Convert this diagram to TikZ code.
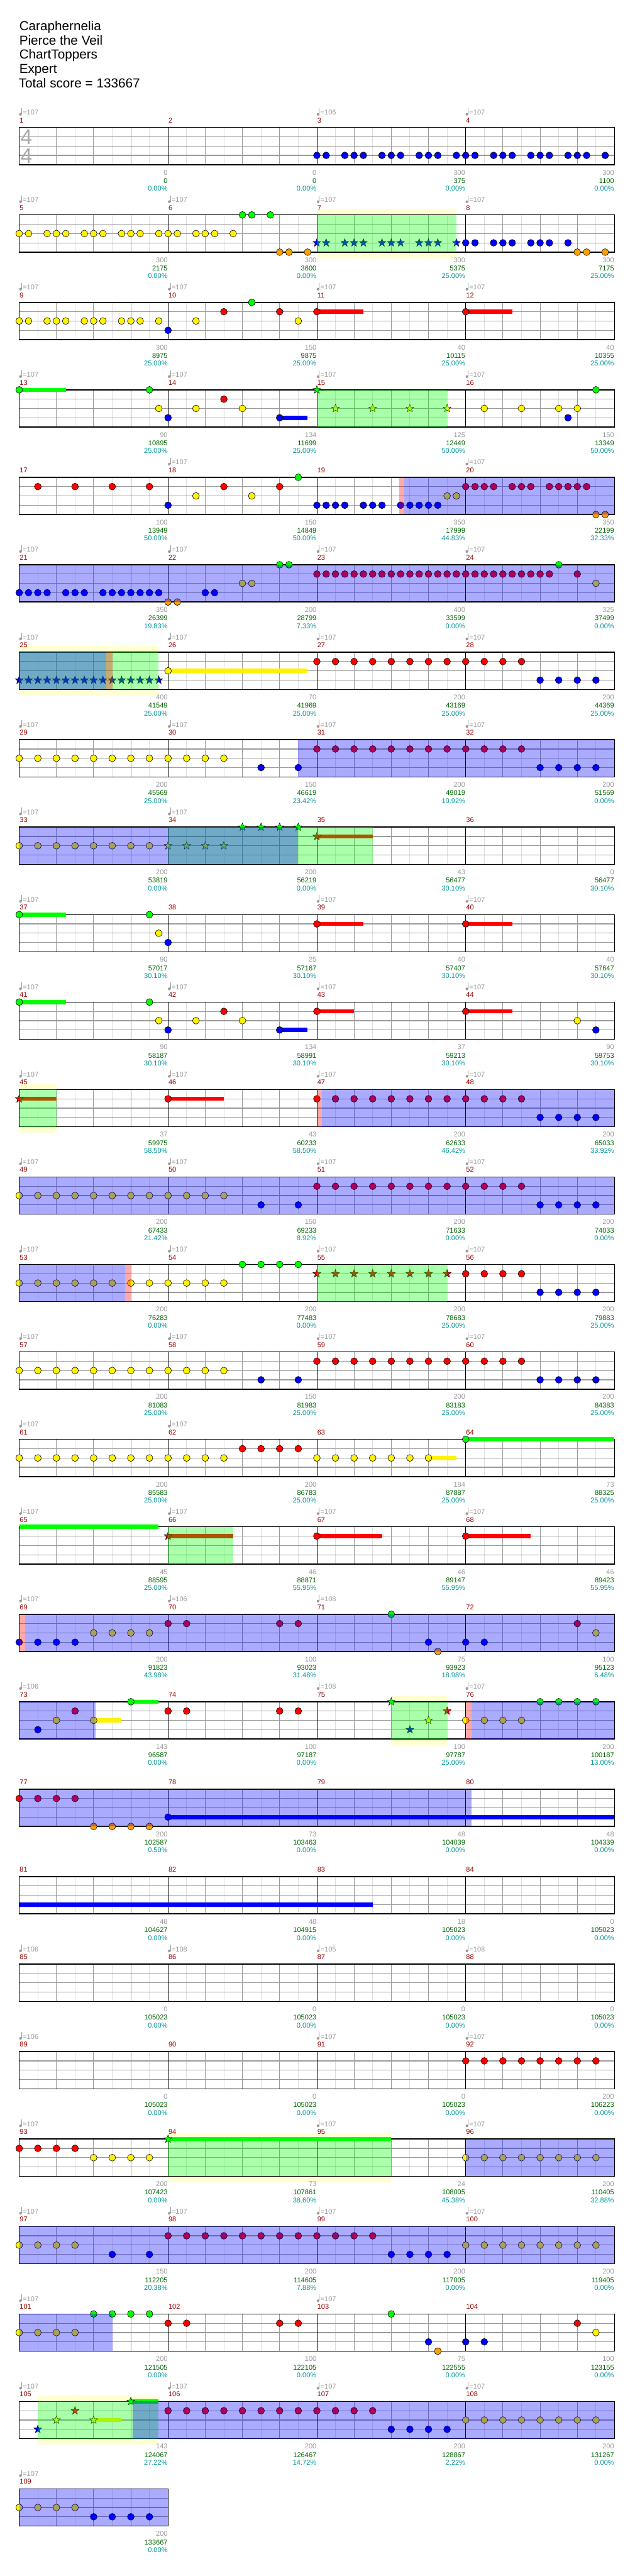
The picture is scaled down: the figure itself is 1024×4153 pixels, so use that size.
\documentclass[tikz,border=0pt]{standalone}
\usepackage{fontspec}
\setmainfont{Liberation Sans}
\usetikzlibrary{shapes.geometric}

\definecolor{tempogray}{RGB}{155,155,155}
\definecolor{barred}{RGB}{153,0,0}
\definecolor{totalgreen}{RGB}{0,100,0}
\definecolor{pctteal}{RGB}{0,150,150}
\definecolor{halfgray}{RGB}{222,222,222}
\definecolor{lanegray}{RGB}{155,155,155}
\definecolor{siggray}{RGB}{170,170,170}
\definecolor{bandyellow}{RGB}{255,255,210}
\definecolor{fretorange}{RGB}{255,160,0}

% origin of a measure: left edge, top lane
\newcommand\mxo[1]{(31+240*mod(#1-1,4))}
\newcommand\myo[1]{(205.5+141*floor((#1-1)/4))}

% gems: style, lane (0 green .. 4 orange), measure/{sixteenths}
\newcommand\gems[3]{%
  \foreach \m/\ks in {#3}{%
    \pgfmathsetmacro\gx{\mxo{\m}}%
    \pgfmathsetmacro\gy{\myo{\m}+15*#2}%
    \foreach \six in \ks {\node[#1] at (\gx+15*\six,\gy) {};}%
  }}

% sustain: colour, lane, measure, from, to (sixteenths)
\newcommand\sus[5]{%
  \pgfmathsetmacro\gx{\mxo{#3}}%
  \pgfmathsetmacro\gy{\myo{#3}+15*#2}%
  \fill[#1] (\gx+15*#4,\gy-3.3) rectangle (\gx+15*#5,\gy+3.3);}

% shading over the staff of a row, and the pale band round it
\newcommand\zone[4]{\fill[#1] (#3,205.5+141*#2) rectangle (#4,265.5+141*#2);}
\newcommand\band[3]{\fill[bandyellow] (#2,195.5+141*#1) rectangle (#3,275.5+141*#1);}

% staff of one row: row, number of measures
\newcommand\staff[2]{%
  \pgfmathsetmacro\sy{205.5+141*#1}%
  \pgfmathsetmacro\sx{31+240*#2}%
  \fill[white] (31,\sy) rectangle (\sx,\sy+60);
  \foreach \cc in {1,...,#2}{%
    \pgfmathsetmacro\cx{31+240*(\cc-1)}%
    \foreach \dd in {30,90,150,210} \draw[halfline] (\cx+\dd,\sy) -- (\cx+\dd,\sy+60);
    \foreach \dd in {60,120,180} \draw[beatline] (\cx+\dd,\sy) -- (\cx+\dd,\sy+60);
  }
  \foreach \yy in {15,30,45} \draw[laneline] (31,\sy+\yy) -- (\sx,\sy+\yy);
  \foreach \cc in {1,...,#2}{\draw[barline] (31+240*\cc-240,\sy) -- (31+240*\cc-240,\sy+60);}
  \draw[staffframe] (31,\sy) rectangle (\sx,\sy+60);}

% tempo mark above a measure
\newcommand\tempo[2]{%
  \pgfmathsetmacro\gx{\mxo{#1}}%
  \pgfmathsetmacro\gy{\myo{#1}}%
  \fill[tempogray] (\gx+2,\gy-21.3) circle[radius=2.2];
  \draw[tempogray,line width=0.9pt] (\gx+4,\gy-21.3) -- (\gx+4,\gy-31.3);
  \node[tempo] at (\gx+5.6,\gy-20.3) {=#2};}

\begin{document}
\begin{tikzpicture}[x=1pt,y=-1pt,
  gem/.style={circle,draw=black,line width=0.6pt,inner sep=0pt,minimum size=11pt,fill=#1},
  spgem/.style={star,star points=5,star point ratio=2.4,draw=black,line width=0.5pt,inner sep=0pt,minimum size=13.5pt,fill=#1},
  halfline/.style={draw=halfgray,line width=1pt},
  beatline/.style={draw=lanegray,line width=1pt},
  laneline/.style={draw=lanegray,line width=1.2pt},
  barline/.style={draw=black,line width=1pt},
  staffframe/.style={draw=black,line width=1.5pt},
  spzone/.style={fill=green,fill opacity=0.333},
  odzone/.style={fill=blue,fill opacity=0.333},
  hitzone/.style={fill=red,fill opacity=0.333},
  smalltext/.style={inner sep=0pt,font=\fontsize{11.2}{11.2}\selectfont},
  tempo/.style={smalltext,anchor=base west,text=tempogray},
  barno/.style={smalltext,anchor=base west,text=barred},
  gain/.style={smalltext,anchor=base east,text=tempogray},
  total/.style={smalltext,anchor=base east,text=totalgreen},
  pct/.style={smalltext,anchor=base east,text=pctteal},
  title/.style={anchor=base west,inner sep=0pt,font=\fontsize{21}{21}\selectfont},
  timesig/.style={anchor=base west,inner sep=0pt,text=siggray,font=\fontsize{34}{34}\selectfont}
]
\fill[white] (0,0) rectangle (1024,4153);
\useasboundingbox (0,0) rectangle (1024,4153);

% header
\node[title] (song) at (31,49.3) {Caraphernelia};
\node[title] (artist) at (31,72.3) {Pierce the Veil};
\node[title] (pack) at (31,95.3) {ChartToppers};
\node[title] (level) at (31,118.3) {Expert};
\node[title] (score) at (30,141.3) {Total score = 133667};

% pale bands
\band{1}{511}{736}
\band{6}{31}{256}
\band{11}{31}{91}
\band{18}{631}{721}
\band{23}{271}{631}
\band{26}{61}{256}

% staves
\foreach \rr in {0,...,26}{\staff{\rr}{4}}
\staff{27}{1}
\node[timesig] (sigtop) at (33,233) {4};
\node[timesig] (sigbot) at (33,263) {4};

% sustains
\sus{red}{1}{11}{0}{5}
\sus{red}{1}{12}{0}{5}
\sus{green}{0}{13}{0}{5}
\sus{blue}{3}{14}{12}{15}
\sus{yellow}{2}{26}{0}{15}
\sus{red}{1}{35}{0}{6}
\sus{green}{0}{37}{0}{5}
\sus{red}{1}{39}{0}{5}
\sus{red}{1}{40}{0}{5}
\sus{green}{0}{41}{0}{5}
\sus{blue}{3}{42}{12}{15}
\sus{red}{1}{43}{0}{4}
\sus{red}{1}{44}{0}{5}
\sus{red}{1}{45}{0}{4}
\sus{red}{1}{46}{0}{6}
\sus{yellow}{2}{63}{12}{15}
\sus{green}{0}{64}{0}{16}
\sus{green}{0}{65}{0}{15}
\sus{red}{1}{66}{0}{7}
\sus{red}{1}{67}{0}{7}
\sus{red}{1}{68}{0}{7}
\sus{yellow}{2}{73}{8}{11}
\sus{green}{0}{73}{12}{15}
\sus{blue}{3}{78}{0}{48}
\sus{blue}{3}{81}{0}{38}
\sus{green}{0}{94}{0}{24}
\sus{yellow}{2}{105}{8}{11}
\sus{green}{0}{105}{12}{15}

% green
\gems{gem=green}{0}{6/{8,9,11}, 10/9, 13/{0,14}, 16/14, 18/14, 22/{12,13}, 24/10,
  37/{0,14}, 41/{0,14}, 54/{8,10,12,14}, 64/0, 71/8, 73/12, 76/{8,10,12,14},
  101/{8,10,12,14}, 103/8}
% red
\gems{gem=red}{1}{10/{6,12}, 11/0, 12/0, 14/6, 17/{2,6,10,14}, 18/{6,12},
  20/{0,1,2,3,5,6,7,9,10,11,12,13}, 23/{0,...,15}, 24/{0,...,9,12},
  27/{0,2,4,6,8,10,12,14}, 28/{0,2,4,6}, 31/{0,2,4,6,8,10,12,14}, 32/{0,2,4,6},
  39/0, 40/0, 42/6, 43/0, 44/0, 46/0, 47/{0,2,4,6,8,10,12,14}, 48/{0,2,4,6},
  51/{0,2,4,6,8,10,12,14}, 52/{0,2,4,6}, 56/{0,2,4,6}, 59/{0,2,4,6,8,10,12,14},
  60/{0,2,4,6}, 62/{8,10,12,14}, 67/0, 68/0, 70/{0,2,12,14}, 72/12, 73/6,
  74/{0,2,12,14}, 77/{0,2,4,6}, 92/{0,2,4,6,8,10,12,14}, 93/{0,2,4,6},
  98/{0,2,4,6,8,10,12,14}, 99/{0,2,4,6}, 102/{0,2,12,14}, 104/12,
  106/{0,2,4,6,8,10,12,14}, 107/{0,2,4,6}}
% yellow
\gems{gem=yellow}{2}{5/{0,1,3,4,5,7,8,9,11,12,13,15}, 6/{0,1,3,4,5,7},
  9/{0,1,3,4,5,7,8,9,11,12,13,15}, 10/{3,14}, 13/15, 14/{3,8}, 16/{2,6,10,12},
  18/{3,9}, 19/{14,15}, 22/{8,9}, 24/14, 26/0, 29/{0,2,4,6,8,10,12,14},
  30/{0,2,4,6}, 33/{0,2,4,6,8,10,12,14}, 37/15, 41/15, 42/{3,8}, 44/12,
  49/{0,2,4,6,8,10,12,14}, 50/{0,2,4,6}, 53/{0,2,4,6,8,10,12,14}, 54/{0,2,4,6},
  57/{0,2,4,6,8,10,12,14}, 58/{0,2,4,6}, 61/{0,2,4,6,8,10,12,14}, 62/{0,2,4,6},
  63/{0,2,4,6,8,10,12}, 69/{8,10,12,14}, 72/14, 73/{4,8}, 76/{0,2,4,6},
  93/{8,10,12,14}, 96/{0,2,4,6,8,10,12,14}, 97/{0,2,4,6},
  100/{0,2,4,6,8,10,12,14}, 101/{0,2,4,6}, 104/14, 108/{0,2,4,6,8,10,12,14},
  109/{0,2,4,6}}
% blue
\gems{gem=blue}{3}{3/{0,1,3,4,5,7,8,9,11,12,13,15}, 4/{0,1,3,4,5,7,8,9,11,12,13,15},
  8/{0,1,3,4,5,7,8,9,11}, 10/0, 14/{0,12}, 16/11, 18/0,
  19/{0,1,2,3,5,6,7,9,10,11,12,13}, 21/{0,1,2,3,5,6,7,9,10,11,12,13,14,15},
  22/{4,5}, 28/{8,10,12,14}, 30/{10,14}, 32/{8,10,12,14}, 38/0, 42/{0,12}, 44/14,
  48/{8,10,12,14}, 50/{10,14}, 52/{8,10,12,14}, 56/{8,10,12,14}, 58/{10,14},
  60/{8,10,12,14}, 69/{0,2,4,6}, 71/12, 72/{0,2}, 73/2, 78/0, 97/{10,14},
  99/{8,10,12,14}, 103/12, 104/{0,2}, 107/{8,10,12,14}, 109/{8,10,12,14}}
% orange
\gems{gem=fretorange}{4}{6/{12,13,15}, 8/{12,13,15}, 20/{14,15}, 22/{0,1}, 71/13,
  77/{8,10,12,14}, 103/13}

% star gems
\gems{spgem=blue}{3}{7/{0,1,3,4,5,7,8,9,11,12,13,15}, 25/{0,...,15}, 75/10, 105/2}
\gems{spgem=green}{0}{15/0, 34/{8,10,12,14}, 75/8, 94/0, 105/12}
\gems{spgem=yellow}{2}{15/{2,6,10,14}, 34/{0,2,4,6}, 75/12, 105/{4,8}}
\gems{spgem=red}{1}{35/0, 45/0, 55/{0,2,4,6,8,10,12,14}, 66/0, 75/14, 105/6}

% star power sections
\zone{spzone}{1}{511}{736}
\zone{spzone}{3}{511}{721}
\zone{spzone}{6}{31}{256}
\zone{spzone}{8}{271}{601}
\zone{spzone}{11}{31}{91}
\zone{spzone}{13}{511}{721}
\zone{spzone}{16}{271}{376}
\zone{spzone}{18}{631}{721}
\zone{spzone}{23}{271}{631}
\zone{spzone}{26}{61}{256}

% overdrive sections
\zone{odzone}{4}{652}{991}
\zone{odzone}{5}{31}{991}
\zone{odzone}{6}{31}{171}
\zone{odzone}{7}{481}{991}
\zone{odzone}{8}{31}{481}
\zone{odzone}{11}{519}{991}
\zone{odzone}{12}{31}{991}
\zone{odzone}{13}{31}{202}
\zone{odzone}{17}{41}{991}
\zone{odzone}{18}{31}{154}
\zone{odzone}{18}{760}{991}
\zone{odzone}{19}{31}{760}
\zone{odzone}{23}{751}{991}
\zone{odzone}{24}{31}{991}
\zone{odzone}{25}{31}{181}
\zone{odzone}{26}{214}{991}
\zone{odzone}{27}{31}{271}

% activation marks
\zone{hitzone}{4}{644}{652}
\zone{hitzone}{6}{171}{181}
\zone{hitzone}{11}{511}{519}
\zone{hitzone}{13}{202}{211}
\zone{hitzone}{17}{31}{41}
\zone{hitzone}{18}{751}{760}

% measure numbers
\foreach \m in {1,...,109}{%
  \pgfmathsetmacro\gx{\mxo{\m}}\pgfmathsetmacro\gy{\myo{\m}}%
  \node[barno] at (\gx+0.6,\gy-7.6) {\m};}

% tempo marks
\foreach \m in {1,4,18,37,76,103}{\tempo{\m}{107}}
\foreach \m in {5,...,16}{\tempo{\m}{107}}
\foreach \m in {20,...,34}{\tempo{\m}{107}}
\foreach \m in {39,...,62}{\tempo{\m}{107}}
\foreach \m in {65,...,69}{\tempo{\m}{107}}
\foreach \m in {91,92,93,95,96,97,98,99,100,101,105,106,107,108,109}{\tempo{\m}{107}}
\foreach \m/\bpm in {3/106,70/106,71/108,73/106,75/108,85/106,86/108,87/105,88/108,89/106}{\tempo{\m}{\bpm}}

% points, running total, percentage under each measure
\foreach \m/\gp/\gt/\gq in {1/0/0/0.00, 2/0/0/0.00, 3/300/375/0.00, 4/300/1100/0.00,
  5/300/2175/0.00, 6/300/3600/0.00, 7/300/5375/25.00, 8/300/7175/25.00,
  9/300/8975/25.00, 10/150/9875/25.00, 11/40/10115/25.00, 12/40/10355/25.00,
  13/90/10895/25.00, 14/134/11699/25.00, 15/125/12449/50.00, 16/150/13349/50.00,
  17/100/13949/50.00, 18/150/14849/50.00, 19/350/17999/44.83, 20/350/22199/32.33,
  21/350/26399/19.83, 22/200/28799/7.33, 23/400/33599/0.00, 24/325/37499/0.00,
  25/400/41549/25.00, 26/70/41969/25.00, 27/200/43169/25.00, 28/200/44369/25.00,
  29/200/45569/25.00, 30/150/46619/23.42, 31/200/49019/10.92, 32/200/51569/0.00,
  33/200/53819/0.00, 34/200/56219/0.00, 35/43/56477/30.10, 36/0/56477/30.10,
  37/90/57017/30.10, 38/25/57167/30.10, 39/40/57407/30.10, 40/40/57647/30.10,
  41/90/58187/30.10, 42/134/58991/30.10, 43/37/59213/30.10, 44/90/59753/30.10,
  45/37/59975/58.50, 46/43/60233/58.50, 47/200/62633/46.42, 48/200/65033/33.92,
  49/200/67433/21.42, 50/150/69233/8.92, 51/200/71633/0.00, 52/200/74033/0.00,
  53/200/76283/0.00, 54/200/77483/0.00, 55/200/78683/25.00, 56/200/79883/25.00,
  57/200/81083/25.00, 58/150/81983/25.00, 59/200/83183/25.00, 60/200/84383/25.00,
  61/200/85583/25.00, 62/200/86783/25.00, 63/184/87887/25.00, 64/73/88325/25.00,
  65/45/88595/25.00, 66/46/88871/55.95, 67/46/89147/55.95, 68/46/89423/55.95,
  69/200/91823/43.98, 70/100/93023/31.48, 71/75/93923/18.98, 72/100/95123/6.48,
  73/143/96587/0.00, 74/100/97187/0.00, 75/100/97787/25.00, 76/200/100187/13.00,
  77/200/102587/0.50, 78/73/103463/0.00, 79/48/104039/0.00, 80/48/104339/0.00,
  81/48/104627/0.00, 82/48/104915/0.00, 83/18/105023/0.00, 84/0/105023/0.00,
  85/0/105023/0.00, 86/0/105023/0.00, 87/0/105023/0.00, 88/0/105023/0.00,
  89/0/105023/0.00, 90/0/105023/0.00, 91/0/105023/0.00, 92/200/106223/0.00,
  93/200/107423/0.00, 94/73/107861/38.60, 95/24/108005/45.38, 96/200/110405/32.88,
  97/150/112205/20.38, 98/200/114605/7.88, 99/200/117005/0.00, 100/200/119405/0.00,
  101/200/121505/0.00, 102/100/122105/0.00, 103/75/122555/0.00, 104/100/123155/0.00,
  105/143/124067/27.22, 106/200/126467/14.72, 107/200/128867/2.22, 108/200/131267/0.00,
  109/200/133667/0.00}{%
  \pgfmathsetmacro\gx{\mxo{\m}+239.5}\pgfmathsetmacro\gy{\myo{\m}}%
  \node[gain] at (\gx,\gy+76.4) {\gp};
  \node[total] at (\gx,\gy+90) {\gt};
  \node[pct] at (\gx,\gy+102.4) {\gq\%};}
\end{tikzpicture}
\end{document}
